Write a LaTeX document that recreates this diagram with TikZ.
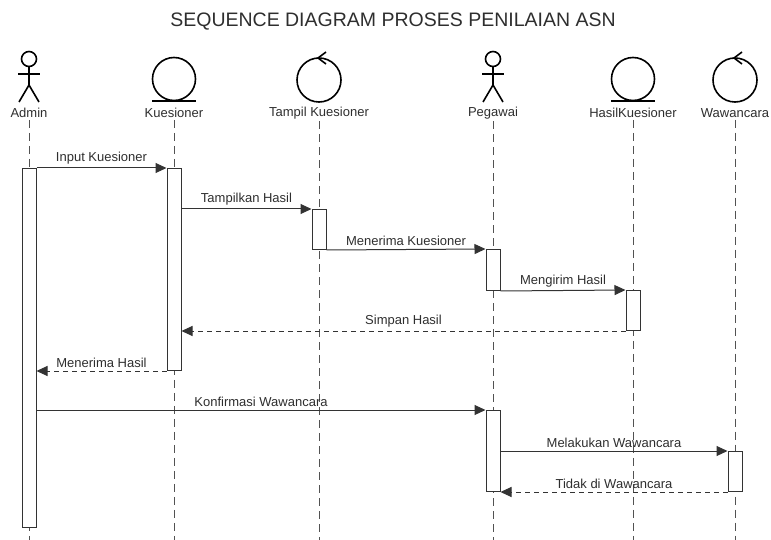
\documentclass[tikz,border=0pt]{standalone}
\usepackage{fontspec}
\setmainfont{Liberation Sans}
\usepackage{tikz}
\usetikzlibrary{arrows, arrows.meta, positioning, calc}
\definecolor{LINEGRAY}{HTML}{333333}
\definecolor{TEXTGRAY}{HTML}{2E2E2E}
\tikzstyle{LABEL} = [draw=none,           % no frame round texts
                     text=TEXTGRAY,
                     font=\fontsize{13}{15}\selectfont,
                     inner sep=2pt]
\tikzstyle{ICON}  = [draw=black,          % actor / entity / control symbols
                     line width=1.6pt]
\tikzstyle{LIFE}  = [draw=LINEGRAY!85,    % lifelines
                     line width=1pt,
                     dash pattern=on 8pt off 5pt]
\tikzstyle{ACT}   = [draw=LINEGRAY,       % activation bars
                     fill=white,
                     line width=1pt,
                     rectangle,
                     minimum width=14pt,
                     inner sep=0pt,
                     anchor=north]
\tikzstyle{MSG}   = [draw=LINEGRAY, line width=1pt, -{Triangle[length=11pt,width=10pt]}]
\tikzstyle{RET}   = [MSG, dash pattern=on 5pt off 4pt]

\begin{document}
\begin{tikzpicture}[x=1pt, y=-1pt]
		\useasboundingbox (0,0) rectangle (771,540);
		
		% Title
		\node(title)[LABEL, font=\fontsize{19.5}{22}\selectfont] at (393,22)
		{
			SEQUENCE DIAGRAM PROSES PENILAIAN ASN
		};
		
		
		
		% Lifeline heads
		\node(admin)[LABEL] at (29,113)
		{
			Admin
		};
		\node(kues)[LABEL, right of = admin, node distance = 145pt]
		{
			Kuesioner
		};
		\node(tampil)[LABEL, right of = kues, node distance = 145pt]
		{
			Tampil Kuesioner
		};
		\node(pegawai)[LABEL, right of = tampil, node distance = 174pt]
		{
			Pegawai
		};
		\node(hasil)[LABEL, right of = pegawai, node distance = 140pt]
		{
			HasilKuesioner
		};
		\node(wawan)[LABEL, right of = hasil, node distance = 102pt]
		{
			Wawancara
		};
		\coordinate (bottom) at (0,540);
		
		
		
		% Actor symbols
		\foreach \n in {admin, pegawai}
		{
			\begin{scope}[shift={(\n.center)}]
				\draw[ICON] (0,-54) circle (7.5);
				\draw[ICON] (0,-46.5) -- (0,-28);
				\draw[ICON] (-11,-39) -- (11,-39);
				\draw[ICON] (-10,-11) -- (0,-28) -- (10,-11);
			\end{scope}
		}
		% Entity symbols
		\foreach \n in {kues, hasil}
		{
			\begin{scope}[shift={(\n.center)}]
				\draw[ICON] (0,-34) circle (21.5);
				\draw[ICON] (-22,-12) -- (22,-12);
			\end{scope}
		}
		% Control symbols
		\foreach \n in {tampil, wawan}
		{
			\begin{scope}[shift={(\n.center)}]
				\draw[ICON] (0,-33) circle (22);
				\draw[ICON] (7,-61) -- (-1,-55) -- (7,-49);
			\end{scope}
		}
		
		
		
		% Lifelines
		\foreach \n in {admin, kues, tampil, pegawai, hasil, wawan}
			\draw[LIFE] (\n.south) -- (\n.south |- bottom);
		
		
		
		% Activation bars
		\node(abox)[ACT, minimum height = 359pt] at (29,168) {};
		\node(kbox)[ACT, minimum height = 202pt] at (174,168) {};
		\node(tbox)[ACT, minimum height = 40pt] at (319,209) {};
		\node(pbox)[ACT, minimum height = 41pt] at (493,249) {};
		\node(hbox)[ACT, minimum height = 40pt] at (633,290) {};
		\node(pboxx)[ACT, minimum height = 81pt] at (493,410) {};
		\node(wbox)[ACT, minimum height = 40pt] at (735,451) {};
		
		
		
		% Messages
		\draw[MSG] (abox.north east) -- (kbox.north west)
			node[midway, above, LABEL, inner sep=3pt]{Input Kuesioner};
		\draw[MSG] (kbox.east |- tbox.north) -- (tbox.north west)
			node[midway, above, LABEL, inner sep=3pt]{Tampilkan Hasil};
		\draw[MSG] (tbox.south east) -- (pbox.north west)
			node[midway, above, LABEL, inner sep=3pt]{Menerima Kuesioner};
		\draw[MSG] (pbox.south east) -- (hbox.north west)
			node[midway, above, LABEL, inner sep=3pt]{Mengirim Hasil};
		% Return messages
		\draw[RET] (hbox.south west) -- (kbox.east |- hbox.south)
			node[midway, above, LABEL, inner sep=3pt]{Simpan Hasil};
		\draw[RET] (kbox.south west) -- (abox.east |- kbox.south)
			node[midway, above, LABEL, inner sep=3pt]{Menerima Hasil};
		% Interview
		\draw[MSG] (abox.east |- pboxx.north) -- (pboxx.north west)
			node[midway, above, LABEL, inner sep=3pt]{Konfirmasi Wawancara};
		\draw[MSG] (pboxx.east |- wbox.north) -- (wbox.north west)
			node[midway, above, LABEL, inner sep=3pt]{Melakukan Wawancara};
		\draw[RET] (wbox.south west) -- (pboxx.south east)
			node[midway, above, LABEL, inner sep=3pt]{Tidak di Wawancara};
		
\end{tikzpicture}
\end{document}
